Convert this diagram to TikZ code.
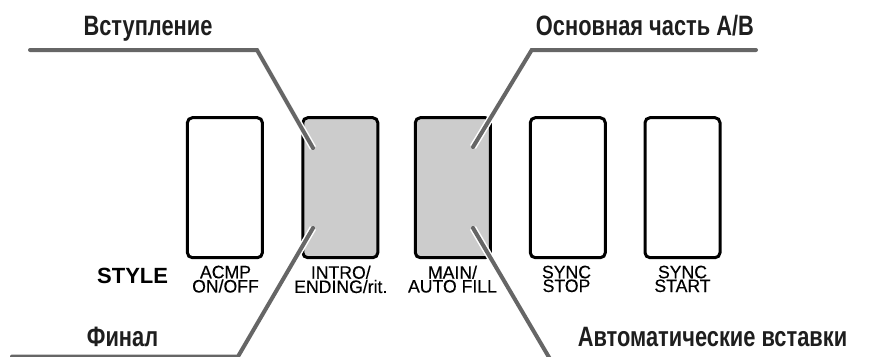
\documentclass[tikz,border=0pt]{standalone}
\usepackage{fontspec}
\setmainfont{Liberation Sans}
\newfontfamily\headfont[FakeStretch=0.78]{Liberation Sans Bold}
\newfontfamily\labfont[FakeStretch=0.98,FakeBold=0.3]{Liberation Sans}
\newfontfamily\stylefont{Liberation Sans Bold}
\definecolor{leadgray}{RGB}{102,102,102}
\definecolor{keygray}{RGB}{204,204,204}
\definecolor{headink}{RGB}{30,30,30}
\tikzset{
  keybox/.style={draw=black, line width=3pt, rounded corners=5pt,
    minimum width=75pt, minimum height=140pt, inner sep=0pt, fill=white},
  keyon/.style={keybox, fill=keygray},
  keylab/.style={font=\labfont\fontsize{18}{12.5}\selectfont, align=center,
    inner sep=0pt, anchor=north},
  stylelab/.style={font=\stylefont\fontsize{22}{24}\selectfont, inner sep=0pt,
    anchor=base west},
  headlab/.style={font=\headfont\fontsize{28}{30}\selectfont, text=headink,
    inner sep=0pt, anchor=base},
  leader/.style={draw=leadgray, line width=4pt, line cap=round, line join=miter,
    preaction={draw=white, line width=7pt}},
}
\begin{document}
\begin{tikzpicture}[x=1pt,y=-1pt]
\useasboundingbox (0,0) rectangle (872,356);
\clip (0,0) rectangle (872,356);

% buttons
\node[keybox] (acmp)  at (224.9,187.7) {};
\node[keyon]  (intro) at (340.3,187.7) {};
\node[keyon]  (main)  at (452.8,187.7) {};
\node[keybox] (stop)  at (567.8,187.7) {};
\node[keybox] (start) at (682.5,187.7) {};

% button labels
\node[keylab] (acmpL)  at (225.5,265.5) {ACMP\\ON/OFF};
\node[keylab] (introL) at (340.8,265.5) {INTRO/\\ENDING/rit.};
\node[keylab] (mainL)  at (452.5,265.5) {MAIN/\\AUTO FILL};
\node[keylab] (stopL)  at (566.5,265.5) {SYNC\\STOP};
\node[keylab] (startL) at (682.5,265.5) {SYNC\\START};
\node[stylelab] (styleL) at (97,283) {STYLE};

% headings
\node[headlab] (hIntro) at (148,35) {Вступление};
\node[headlab] (hMain)  at (645,35) {Основная часть A/B};
\node[headlab] (hEnd)   at (122.5,346.5) {Финал};
\node[headlab] (hFill)  at (712.5,346.5) {Автоматические вставки};

% leader coordinates
\coordinate (introEnd)   at (313,148);
\coordinate (introBend)  at (257,50);
\coordinate (introStart) at (30,50);
\coordinate (mainEnd)    at (473,147);
\coordinate (mainBend)   at (531.7,50);
\coordinate (mainStart)  at (756,50);
\coordinate (endEnd)     at (313,228);
\coordinate (endBend)    at (238,356.5);
\coordinate (endStart)   at (12,356.5);
\coordinate (fillEnd)    at (473,228);
\coordinate (fillBot)    at (550,359);

% leaders
\draw[leader] (introStart) -- (introBend) -- (introEnd);
\draw[leader] (mainStart) -- (mainBend) -- (mainEnd);
\draw[leader] (endStart) -- (endBend) -- (endEnd);
\draw[leader] (fillBot) -- (fillEnd);
\end{tikzpicture}
\end{document}
